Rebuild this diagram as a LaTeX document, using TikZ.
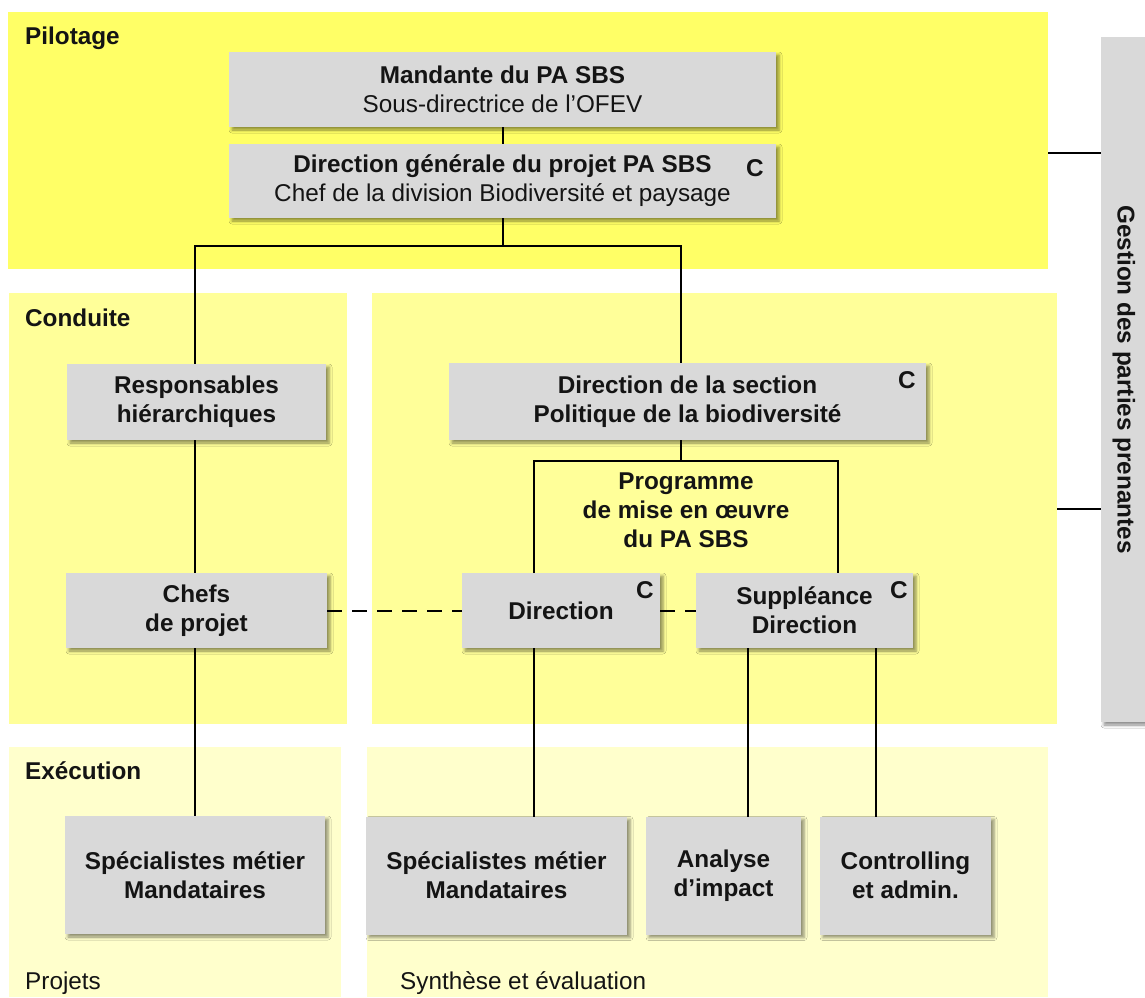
\documentclass[tikz,border=0pt]{standalone}
\usepackage{fontspec}
\setmainfont{Liberation Sans}
\usepackage{graphicx}
\usetikzlibrary{shadows.blur}
\definecolor{pilY}{HTML}{FFFF66}
\definecolor{conY}{HTML}{FFFF99}
\definecolor{exeY}{HTML}{FFFFCC}
\definecolor{boxG}{HTML}{D9D9D9}
\definecolor{txt}{HTML}{141414}
\begin{document}
\begin{tikzpicture}[x=1pt,y=-1pt,
  band/.style={fill=#1, draw=none, anchor=north west, inner sep=0pt, outer sep=0pt},
  box/.style={fill=boxG, draw=none, align=center, inner sep=0pt, outer sep=0pt, text=txt,
    font=\fontsize{24.3}{29}\selectfont\bfseries,
    blur shadow={shadow xshift=3pt, shadow yshift=-3pt, shadow blur radius=3pt, shadow opacity=45}},
  lab/.style={anchor=base west, inner sep=0pt, text=txt, font=\fontsize{24.3}{29}\selectfont\bfseries},
  labn/.style={lab, font=\fontsize{24.3}{29}\selectfont},
  clab/.style={inner sep=0pt, text=txt, font=\fontsize{24.3}{29}\selectfont\bfseries},
  conn/.style={draw=black, line width=2pt},
  dashconn/.style={conn, dash pattern=on 15pt off 10pt}
]
\useasboundingbox[fill=white] (0,0) rectangle (1145,997);

% bands
\node[band=pilY, minimum width=1040pt, minimum height=257pt] (pil) at (8,12) {};
\node[band=conY, minimum width=338pt, minimum height=431pt] (condL) at (9,293) {};
\node[band=conY, minimum width=685pt, minimum height=431pt] (condR) at (372,293) {};
\node[band=exeY, minimum width=332pt, minimum height=250pt] (execL) at (9,747) {};
\node[band=exeY, minimum width=681pt, minimum height=250pt] (execR) at (367,747) {};

% band labels
\node[lab] (lpil) at (25,44) {Pilotage};
\node[lab] (lcond) at (25,326) {Conduite};
\node[lab] (lexec) at (25,779) {Exécution};
\node[labn] (lproj) at (25,989) {Projets};
\node[labn] (lsyn) at (400,989) {Synthèse et évaluation};

% boxes
\node[box, minimum width=547pt, minimum height=75pt] (mand) at (502.5,89.5)
  {Mandante du PA SBS\\\mdseries Sous-directrice de l’OFEV};
\node[box, minimum width=547pt, minimum height=74pt] (dg) at (502.5,181)
  {Direction générale du projet PA SBS\\\mdseries Chef de la division Biodiversité et paysage};
\node[box, minimum width=259pt, minimum height=76pt] (resp) at (196.5,402)
  {Responsables\\hiérarchiques};
\node[box, minimum width=477pt, minimum height=77pt] (dirsec) at (687.5,401.5)
  {Direction de la section\\Politique de la biodiversité};
\node[box, minimum width=261pt, minimum height=75pt] (chefs) at (196.5,610.5)
  {Chefs\\de projet};
\node[box, minimum width=198pt, minimum height=75pt] (dir) at (561,610.5)
  {Direction};
\node[box, minimum width=217pt, minimum height=75pt] (sup) at (804.5,610.5)
  {Suppléance\\Direction};
\node[box, minimum width=260pt, minimum height=118pt] (specL) at (195,875)
  {Spécialistes métier\\Mandataires};
\node[box, minimum width=261pt, minimum height=118pt] (specR) at (496.5,875.5)
  {Spécialistes métier\\Mandataires};
\node[box, minimum width=155pt, minimum height=118pt] (anal) at (723.5,875.5)
  {Analyse\\d’impact};
\node[box, minimum width=171pt, minimum height=118pt] (ctrl) at (905.5,875.5)
  {Controlling\\et admin.};
\node[box, minimum width=46pt, minimum height=685pt] (gest) at (1124,379.5)
  {\rotatebox{-90}{Gestion des parties prenantes}};

% programme text
\node[clab, align=center] (prog) at (686,510) {Programme\\de mise en œuvre\\du PA SBS};

% C labels
\node[clab] (cdg) at (755,168) {C};
\node[clab] (cdirsec) at (907,380) {C};
\node[clab] (cdir) at (645,590) {C};
\node[clab] (csup) at (899,590) {C};

% connectors
\coordinate (j1) at (502.5,246);
\coordinate (j2) at (681,461);
\draw[conn] (mand.south) -- (dg.north);
\draw[conn] (dg.south) -- (j1) -| ([xshift=-1.5pt]resp.north);
\draw[conn] (j1) -| ([xshift=-6.5pt]dirsec.north);
\draw[conn] ([xshift=-1.5pt]resp.south) -- ([xshift=-1.5pt]resp.south |- chefs.north);
\draw[conn] ([xshift=-1.5pt]chefs.south) -- ([xshift=-1.5pt]chefs.south |- specL.north);
\draw[conn] ([xshift=-6.5pt]dirsec.south) -- (j2);
\draw[conn] (j2) -| ([xshift=-27pt]dir.north);
\draw[conn] (j2) -| ([xshift=33.5pt]sup.north);
\draw[dashconn] (chefs.east) -- (dir.west);
\draw[dashconn] (dir.east) -- (sup.west);
\draw[conn] ([xshift=-27pt]dir.south) -- ([xshift=-27pt]dir.south |- specR.north);
\draw[conn] ([xshift=-56.5pt]sup.south) -- ([xshift=-56.5pt]sup.south |- anal.north);
\draw[conn] ([xshift=71.5pt]sup.south) -- ([xshift=71.5pt]sup.south |- ctrl.north);
\draw[conn] ([yshift=-12.5pt]pil.east) -- ([yshift=-12.5pt]pil.east -| gest.west);
\draw[conn] (condR.east) -- (condR.east -| gest.west);
\end{tikzpicture}
\end{document}
